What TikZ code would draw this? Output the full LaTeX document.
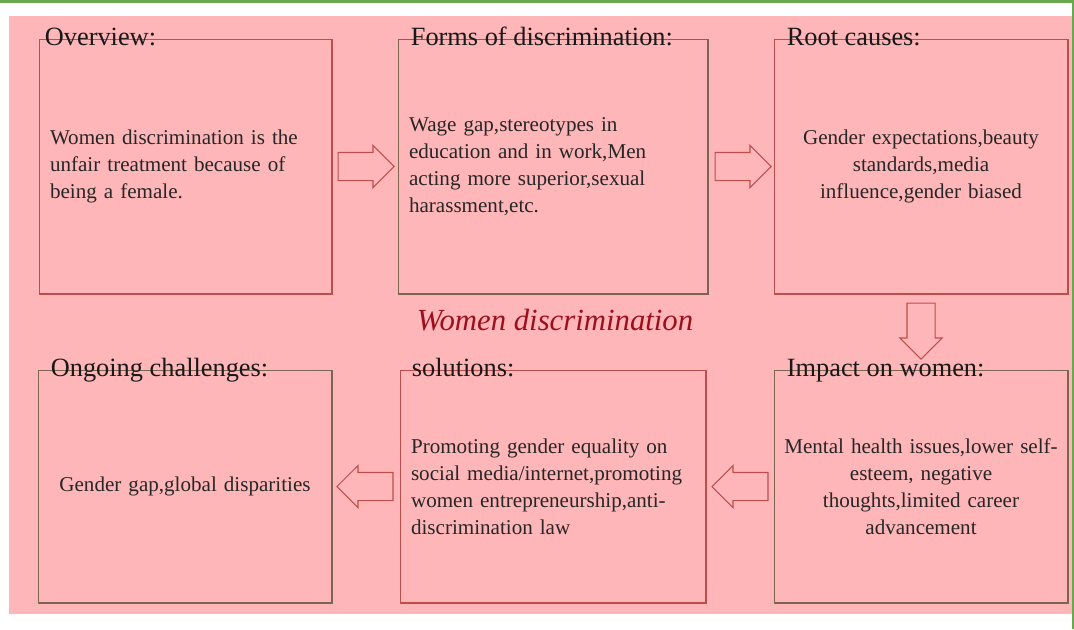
\documentclass[tikz,border=0pt]{standalone}
\usepackage{fontspec}
\setmainfont{Liberation Serif}
\usetikzlibrary{shapes.arrows,positioning,calc}

\definecolor{bgpink}{RGB}{255,182,185}
\definecolor{edgered}{RGB}{190,78,76}
\definecolor{edgebrown}{RGB}{125,100,78}
\definecolor{topgreen}{RGB}{106,168,79}
\definecolor{titlered}{RGB}{155,16,28}

\tikzset{
  panel/.style={draw=#1, line width=0.6pt, inner sep=0.22cm, minimum height=5.1cm,
    font=\fontsize{12}{15.3}\selectfont, text=black!85},
  cpanel/.style={panel=#1, inner xsep=0.05cm, text width=5.78cm, align=center},
  heading/.style={anchor=base west, inner sep=0, font=\fontsize{15}{18}\selectfont, text=black!90},
  blockarrow/.style={single arrow, draw=edgered, fill=bgpink, line width=0.6pt,
    minimum height=1.12cm, minimum width=0.82cm, single arrow head extend=0.14cm,
    inner sep=0.27cm, shape border rotate=#1, anchor=tail}
}

\begin{document}
\begin{tikzpicture}[x=0.02cm, y=-0.02cm]
  \useasboundingbox (0,0) rectangle (1074,629);
  \fill[topgreen] (0,0) rectangle (1074,3);
  \fill[bgpink] (9,16) rectangle (1072,614);
  \fill[topgreen] (1072,0) rectangle (1074,629);

  % top row
  \node[panel=edgered, text width=5.42cm, align=left] (ov) at (185.5,166.5)
    {Women discrimination is the\\unfair treatment because of\\being a female.};
  \node[panel=edgebrown, text width=5.76cm, align=left] (fm) at (553,166.5)
    {Wage gap,stereotypes in\\education and in work,Men\\acting more superior,sexual\\harassment,etc.};
  \node[cpanel=edgered] (rc) at (921,166.5)
    {Gender expectations,beauty\\standards,media\\influence,gender biased};

  % bottom row
  \node[cpanel=edgebrown, minimum height=4.66cm] (im) at (921,486.5)
    {Mental health issues,lower self-\\esteem, negative\\thoughts,limited career\\advancement};
  \node[panel=edgered, text width=5.68cm, align=left, minimum height=4.66cm] (so) at (553,486.5)
    {Promoting gender equality on\\social media/internet,promoting\\women entrepreneurship,anti-\\discrimination law};
  \node[cpanel=edgebrown, minimum height=4.66cm] (og) at (185,486.5)
    {Gender gap,global disparities};

  % headings
  \node[heading] (ovT) at ($(ov.north west)+(6,7)$) {Overview:};
  \node[heading] (fmT) at ($(fm.north west)+(13,7)$) {Forms of discrimination:};
  \node[heading] (rcT) at ($(rc.north west)+(13,7)$) {Root causes:};
  \node[heading] (imT) at ($(im.north west)+(13,7)$) {Impact on women:};
  \node[heading] (soT) at ($(so.north west)+(12,7)$) {solutions:};
  \node[heading] (ogT) at ($(og.north west)+(13,7)$) {Ongoing challenges:};

  \node[anchor=base, inner sep=0, text=titlered, font=\fontsize{17.5}{20}\selectfont\itshape]
    (mainT) at (555,330) {Women discrimination};

  % arrows
  \node[blockarrow=0] (a1) at ($(ov.east)+(5,0)$) {};
  \node[blockarrow=0] (a2) at ($(fm.east)+(6,0)$) {};
  \node[blockarrow=270] (a3) at ($(rc.south)+(0,8)$) {};
  \node[blockarrow=180] (a4) at ($(im.west)+(-5,0)$) {};
  \node[blockarrow=180] (a5) at ($(so.west)+(-6,0)$) {};
\end{tikzpicture}
\end{document}
